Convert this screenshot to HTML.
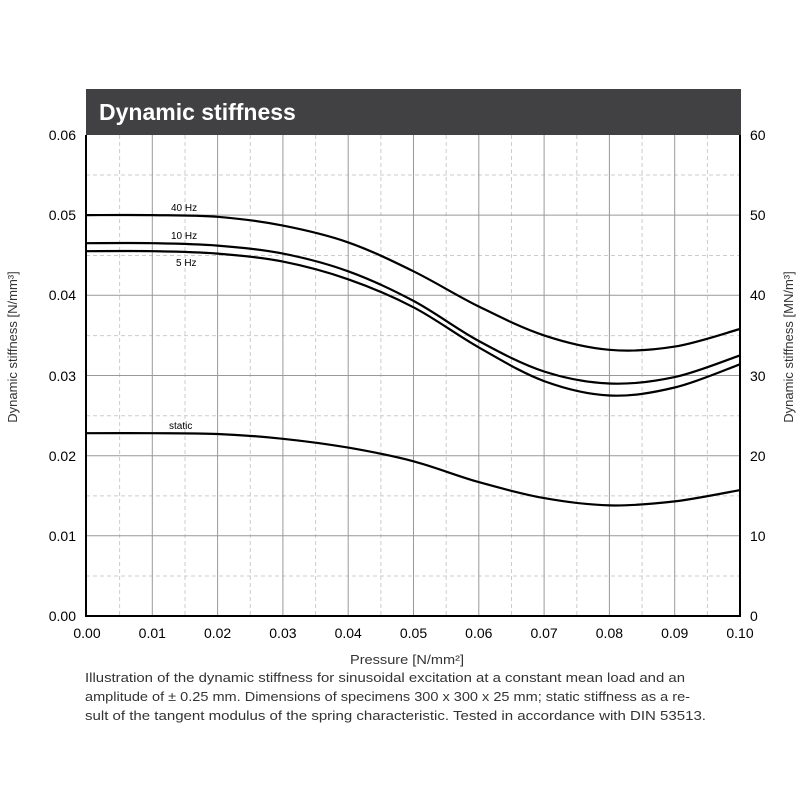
<!DOCTYPE html>
<html><head><meta charset="utf-8"><style>
html,body{margin:0;padding:0;background:#fff;}
svg{display:block;font-family:"Liberation Sans",sans-serif;}
</style></head><body>
<svg width="800" height="800" viewBox="0 0 800 800">
<rect width="800" height="800" fill="#fff"/>
<rect x="86" y="89" width="655" height="46" fill="#414042"/>
<text x="99" y="120" font-size="23" font-weight="bold" fill="#fff">Dynamic stiffness</text>
<g stroke="#ccc" stroke-width="1" stroke-dasharray="4,3">
<line x1="119.6" y1="135" x2="119.6" y2="616"/><line x1="185" y1="135" x2="185" y2="616"/><line x1="250.3" y1="135" x2="250.3" y2="616"/><line x1="315.6" y1="135" x2="315.6" y2="616"/><line x1="380.9" y1="135" x2="380.9" y2="616"/><line x1="446.2" y1="135" x2="446.2" y2="616"/><line x1="511.5" y1="135" x2="511.5" y2="616"/><line x1="576.8" y1="135" x2="576.8" y2="616"/><line x1="642.1" y1="135" x2="642.1" y2="616"/><line x1="707.4" y1="135" x2="707.4" y2="616"/>
<line x1="86" y1="175" x2="740" y2="175"/><line x1="86" y1="255.5" x2="740" y2="255.5"/><line x1="86" y1="335.6" x2="740" y2="335.6"/><line x1="86" y1="415.8" x2="740" y2="415.8"/><line x1="86" y1="495.9" x2="740" y2="495.9"/><line x1="86" y1="576" x2="740" y2="576"/>
</g>
<g stroke="#999" stroke-width="1">
<line x1="152.3" y1="135" x2="152.3" y2="616"/><line x1="217.6" y1="135" x2="217.6" y2="616"/><line x1="282.9" y1="135" x2="282.9" y2="616"/><line x1="348.2" y1="135" x2="348.2" y2="616"/><line x1="413.5" y1="135" x2="413.5" y2="616"/><line x1="478.8" y1="135" x2="478.8" y2="616"/><line x1="544.1" y1="135" x2="544.1" y2="616"/><line x1="609.4" y1="135" x2="609.4" y2="616"/><line x1="674.7" y1="135" x2="674.7" y2="616"/>
<line x1="86" y1="215.1" x2="740" y2="215.1"/><line x1="86" y1="295.3" x2="740" y2="295.3"/><line x1="86" y1="375.5" x2="740" y2="375.5"/><line x1="86" y1="455.7" x2="740" y2="455.7"/><line x1="86" y1="535.8" x2="740" y2="535.8"/>
</g>
<g id="curves" fill="none" stroke="#000" stroke-width="2.2" stroke-linejoin="round">
<polyline points="87,215.1 152.3,215.1 217.6,216.8 282.9,225.6 348.2,242.4 413.5,271.3 478.8,306.5 544.1,335.4 609.4,349.8 674.7,346.6 740,329"/>
<polyline points="87,243.2 152.3,243.2 217.6,245.6 282.9,253.6 348.2,271.3 413.5,300.9 478.8,341 544.1,371.5 609.4,383.5 674.7,377.1 740,355.4"/>
<polyline points="87,251.2 152.3,251.2 217.6,253.6 282.9,261.6 348.2,279.3 413.5,307.3 478.8,347.4 544.1,381.1 609.4,395.5 674.7,387.5 740,364.3"/>
<polyline points="87,433.2 152.3,433.2 217.6,434 282.9,438.8 348.2,447.6 413.5,461.3 478.8,482.1 544.1,498.1 609.4,505.4 674.7,501.4 740,490.1"/>
</g>
<g font-size="10" fill="#000">
<text x="171" y="211">40 Hz</text><text x="171" y="239">10 Hz</text><text x="176" y="266">5 Hz</text><text x="169" y="429">static</text>
</g>
<path d="M86,135 V616 H740 V135" fill="none" stroke="#000" stroke-width="2"/>
<g font-size="14" fill="#000" text-anchor="end">
<text x="76" y="140">0.06</text><text x="76" y="220">0.05</text><text x="76" y="300">0.04</text><text x="76" y="381">0.03</text><text x="76" y="461">0.02</text><text x="76" y="541">0.01</text><text x="76" y="621">0.00</text>
</g>
<g font-size="14" fill="#000">
<text x="750" y="140">60</text><text x="750" y="220">50</text><text x="750" y="300">40</text><text x="750" y="381">30</text><text x="750" y="461">20</text><text x="750" y="541">10</text><text x="750" y="621">0</text>
</g>
<g font-size="14" fill="#000" text-anchor="middle">
<text x="87" y="638">0.00</text><text x="152.3" y="638">0.01</text><text x="217.6" y="638">0.02</text><text x="282.9" y="638">0.03</text><text x="348.2" y="638">0.04</text><text x="413.5" y="638">0.05</text><text x="478.8" y="638">0.06</text><text x="544.1" y="638">0.07</text><text x="609.4" y="638">0.08</text><text x="674.7" y="638">0.09</text><text x="740" y="638">0.10</text>
</g>
<text x="17" y="347" font-size="13" fill="#333" text-anchor="middle" transform="rotate(-90 17 347)">Dynamic stiffness  [N/mm³]</text>
<text x="793" y="347" font-size="13" fill="#333" text-anchor="middle" transform="rotate(-90 793 347)">Dynamic stiffness  [MN/m³]</text>
<text x="407" y="664" font-size="13" fill="#333" text-anchor="middle" textLength="114" lengthAdjust="spacingAndGlyphs">Pressure [N/mm²]</text>
<g font-size="13" fill="#333">
<text x="85" y="682" textLength="600" lengthAdjust="spacingAndGlyphs">Illustration of the dynamic stiffness for sinusoidal excitation at a constant mean load and an</text>
<text x="85" y="701" textLength="605" lengthAdjust="spacingAndGlyphs">amplitude of ± 0.25 mm.  Dimensions of specimens 300 x 300 x 25 mm; static stiffness as a re-</text>
<text x="85" y="720" textLength="621" lengthAdjust="spacingAndGlyphs">sult of the tangent modulus of the  spring characteristic. Tested in accordance with DIN 53513.</text>
</g>
</svg>
<script>
(function(){
var ns="http://www.w3.org/2000/svg";
var g=document.getElementById("curves");
var pls=Array.prototype.slice.call(g.querySelectorAll("polyline"));
pls.forEach(function(pl){
 var p=pl.getAttribute("points").trim().split(/\s+/).map(function(s){return s.split(",").map(Number);});
 var d="M"+p[0][0]+","+p[0][1];
 for(var i=0;i<p.length-1;i++){
  var p0=p[i-1]||p[i],p1=p[i],p2=p[i+1],p3=p[i+2]||p2;
  var c1x=p1[0]+(p2[0]-p0[0])/6,c1y=p1[1]+(p2[1]-p0[1])/6;
  var c2x=p2[0]-(p3[0]-p1[0])/6,c2y=p2[1]-(p3[1]-p1[1])/6;
  d+=" C"+c1x.toFixed(1)+","+c1y.toFixed(1)+" "+c2x.toFixed(1)+","+c2y.toFixed(1)+" "+p2[0]+","+p2[1];
 }
 var path=document.createElementNS(ns,"path");
 path.setAttribute("d",d);
 g.replaceChild(path,pl);
});
})();
</script>
</body></html>
